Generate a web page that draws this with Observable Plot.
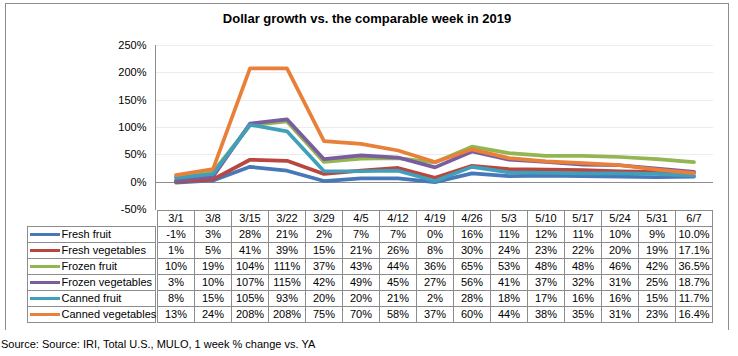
<!DOCTYPE html>
<html>
<head>
<meta charset="utf-8">
<script src="https://cdn.jsdelivr.net/npm/d3@7"></script>
<script src="https://cdn.jsdelivr.net/npm/@observablehq/plot@0.6"></script>
<style>
  html, body { margin: 0; padding: 0; background: #fff; }
  #root { position: relative; width: 738px; height: 356px; font-family: "Liberation Sans", Arial, sans-serif; color: #000; overflow: hidden; }
  #border { position: absolute; left: 5px; top: 3px; width: 722px; height: 326px; border: 1px solid #8c8c8c; border-bottom: none; }
  #title { position: absolute; left: 5px; width: 724px; top: 11px; text-align: center; font-weight: bold; font-size: 13px; }
  #caption { position: absolute; left: 1px; top: 338px; font-size: 11px; }
  .layer { position: absolute; left: 0; }
</style>
</head>
<body>
<div id="root">
  <div id="border"></div>
  <div id="title">Dollar growth vs. the comparable week in 2019</div>
  <div id="chart" class="layer" style="top:0"></div>
  <div id="table" class="layer" style="top:209px"></div>
  <div id="legend" class="layer" style="top:209px"></div>
  <div id="caption">Source: Source: IRI, Total U.S., MULO, 1 week % change vs. YA</div>
</div>
<script>
const dates = ["3/1","3/8","3/15","3/22","3/29","4/5","4/12","4/19","4/26","5/3","5/10","5/17","5/24","5/31","6/7"];
const seriesNames = ["Fresh fruit","Fresh vegetables","Frozen fruit","Frozen vegetables","Canned fruit","Canned vegetables"];
const freshFruit       = [-1, 3, 28, 21, 2, 7, 7, 0, 16, 11, 12, 11, 10, 9, 10.0];
const freshVegetables  = [1, 5, 41, 39, 15, 21, 26, 8, 30, 24, 23, 22, 20, 19, 17.1];
const frozenFruit      = [10, 19, 104, 111, 37, 43, 44, 36, 65, 53, 48, 48, 46, 42, 36.5];
const frozenVegetables = [3, 10, 107, 115, 42, 49, 45, 27, 56, 41, 37, 32, 31, 25, 18.7];
const cannedFruit      = [8, 15, 105, 93, 20, 20, 21, 2, 28, 18, 17, 16, 16, 15, 11.7];
const cannedVegetables = [13, 24, 208, 208, 75, 70, 58, 37, 60, 44, 38, 35, 31, 23, 16.4];
const yTicks = [-50, 0, 50, 100, 150, 200, 250];
const colors = ["#4778b8", "#b9473f", "#93b552", "#7a5d9e", "#409fbb", "#e8803a"];

const seriesValues = [freshFruit, freshVegetables, frozenFruit, frozenVegetables, cannedFruit, cannedVegetables];
const rows = [];
seriesNames.forEach((s, si) => dates.forEach((d, i) => rows.push({
  series: s, date: d, value: seriesValues[si][i],
  label: (i === dates.length - 1 ? seriesValues[si][i].toFixed(1) : seriesValues[si][i].toFixed(0)) + "%"
})));
const headerCells = dates.map(d => ({series: "header", date: d, label: d}));
const tableCells = headerCells.concat(rows);
const rowKeys = ["header", ...seriesNames];
const font = {fontFamily: "'Liberation Sans', Arial, sans-serif", fontSize: "11px", color: "#000", background: "transparent", overflow: "visible"};

const chart = Plot.plot({
  width: 738, height: 210, marginTop: 45, marginBottom: 1, marginLeft: 155, marginRight: 25,
  style: font,
  x: {type: "band", domain: dates, padding: 0, axis: null},
  y: {domain: [-50, 250], axis: null},
  color: {domain: seriesNames, range: colors},
  marks: [
    Plot.ruleY(yTicks.filter(t => t > 0), {stroke: "#ececec", shapeRendering: "crispEdges"}),
    Plot.ruleY([0], {stroke: "#8c8c8c", shapeRendering: "crispEdges"}),
    Plot.frame({anchor: "left", stroke: "#8c8c8c", shapeRendering: "crispEdges"}),
    Plot.axisY({ticks: yTicks, tickFormat: d => d + "%", tickSize: 0, tickPadding: 9, label: null, fill: "#000"}),
    Plot.line(rows, {x: "date", y: "value", z: "series", stroke: "series", strokeWidth: 3.7, strokeLinejoin: "round"})
  ]
});
document.getElementById("chart").append(chart);

const table = Plot.plot({
  width: 738, height: 116, marginTop: 0, marginBottom: 2, marginLeft: 155, marginRight: 25,
  style: font,
  x: {type: "band", domain: dates, padding: 0, axis: null},
  y: {type: "band", domain: rowKeys, padding: 0, axis: null},
  marks: [
    Plot.cell(tableCells, {x: "date", y: "series", fill: "white", stroke: "#8c8c8c", shapeRendering: "crispEdges"}),
    Plot.text(tableCells, {x: "date", y: "series", text: "label", fill: "#000"})
  ]
});
document.getElementById("table").append(table);

const legend = Plot.plot({
  width: 155, height: 116, marginTop: 0, marginBottom: 2, marginLeft: 27, marginRight: 0,
  style: font,
  y: {type: "band", domain: rowKeys, padding: 0, axis: null},
  color: {domain: seriesNames, range: colors},
  marks: [
    Plot.cell(seriesNames, {y: d => d, fill: "white", stroke: "#8c8c8c", shapeRendering: "crispEdges"}),
    Plot.ruleY(seriesNames, {y: d => d, stroke: d => d, strokeWidth: 3, insetLeft: 3, insetRight: 95}),
    Plot.text(seriesNames, {y: d => d, text: d => d, frameAnchor: "left", dx: 34, fill: "#000"})
  ]
});
document.getElementById("legend").append(legend);
</script>
</body>
</html>
